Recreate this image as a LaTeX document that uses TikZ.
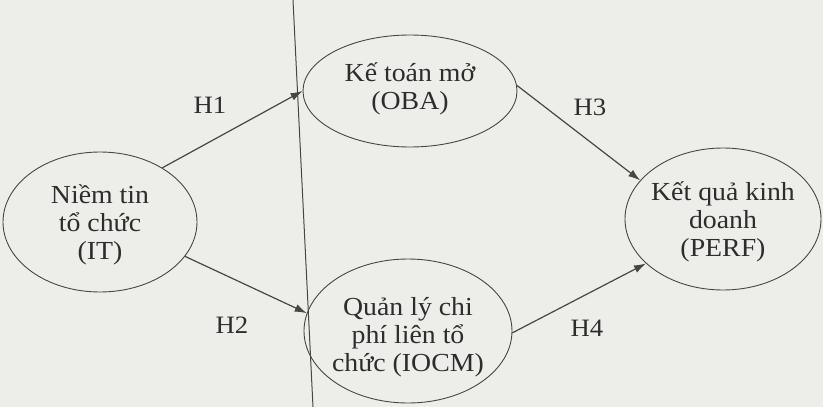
\documentclass[tikz,border=0pt]{standalone}
\usepackage{fontspec}
\setmainfont[FakeStretch=1.07]{Liberation Serif}
\usetikzlibrary{shapes.geometric,arrows.meta}
\definecolor{paper}{RGB}{237,237,233}
\definecolor{ink}{RGB}{70,70,70}
\definecolor{txt}{RGB}{45,45,45}
\tikzset{
  oval/.style={ellipse,draw=ink,line width=0.9pt,inner sep=0pt,align=center,
    text=txt,font=\fontsize{26}{28}\selectfont},
  ovaltext/.style={inner sep=0pt,align=center,text=txt,font=\fontsize{26}{28}\selectfont},
  link/.style={draw=ink,line width=1.2pt,-{Latex[length=12pt,width=8pt]}},
  hlab/.style={text=txt,font=\fontsize{25}{28}\selectfont}
}
\begin{document}
\begin{tikzpicture}[x=1pt,y=-1pt]
\fill[paper] (0,0) rectangle (823,407);
\useasboundingbox (0,0) rectangle (823,407);
\coordinate (gtop) at (293,0);
\coordinate (gbot) at (313,407);
\draw[ink,line width=1pt] (gtop) -- (gbot);
\node[oval,minimum width=194pt,minimum height=140pt] (IT) at (100,222) {};
\node[ovaltext] (ITt) at (100,225) {Niềm tin\\tổ chức\\(IT)};
\node[oval,minimum width=214pt,minimum height=112pt] (OBA) at (410,91) {};
\node[ovaltext] (OBAt) at (410,89) {Kế toán mở\\(OBA)};
\node[oval,minimum width=208pt,minimum height=144pt] (IOCM) at (408,331) {};
\node[ovaltext] (IOCMt) at (408,337) {Quản lý chi\\phí liên tổ\\chức (IOCM)};
\node[oval,minimum width=196pt,minimum height=142pt] (PERF) at (723,219) {};
\node[ovaltext] (PERFt) at (723,222) {Kết quả kinh\\doanh\\(PERF)};
\draw[link] (IT.41) -- (OBA.180);
\draw[link] (IT.-22) -- (IOCM.170);
\draw[link] (OBA.3) -- (PERF.155);
\draw[link] (IOCM.-1) -- (PERF.210);
\node[hlab] (h1) at (210,105) {H1};
\node[hlab] (h2) at (232,325) {H2};
\node[hlab] (h3) at (590,107) {H3};
\node[hlab] (h4) at (587,328) {H4};
\end{tikzpicture}
\end{document}
